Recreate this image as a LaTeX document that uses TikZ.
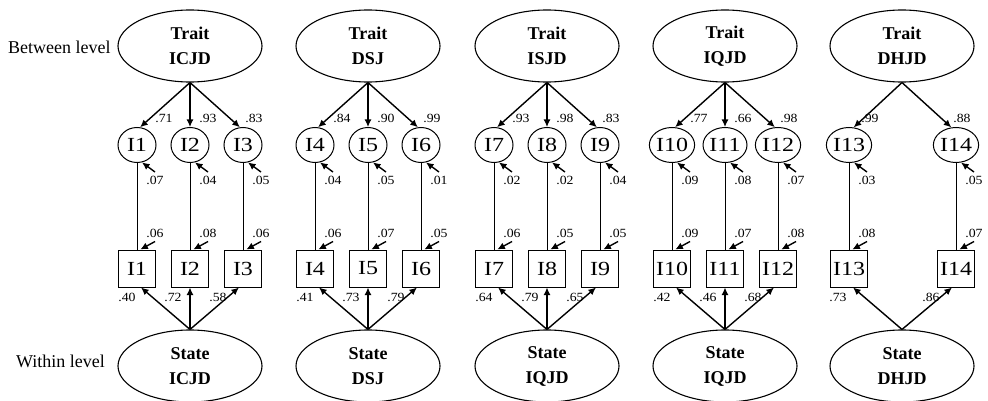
\documentclass[tikz,border=0pt]{standalone}
\usepackage{fontspec}
\setmainfont{Liberation Serif}
\newfontfamily\wideserif[FakeStretch=1.2]{Liberation Serif}
\newfontfamily\numserif[FakeStretch=1.1]{Liberation Serif}
\usetikzlibrary{arrows.meta,shapes.geometric}
\begin{document}
\begin{tikzpicture}[x=1pt,y=-1pt,
 lat/.style={draw,ellipse,line width=1.1pt,minimum width=144pt,minimum height=72pt,inner sep=0pt,align=center,font=\fontsize{18}{25}\selectfont\bfseries},
 itc/.style={draw,ellipse,line width=1pt,minimum width=38pt,minimum height=35pt,inner sep=0pt,font=\wideserif\fontsize{20}{20}\selectfont},
 itb/.style={draw,rectangle,line width=1pt,minimum size=37pt,inner sep=0pt,font=\wideserif\fontsize{20}{20}\selectfont},
 num/.style={inner sep=0pt,font=\numserif\fontsize{12.5}{13}\selectfont},
 lvl/.style={inner sep=0pt,font=\fontsize{18}{18}\selectfont},
 arr/.style={line width=1.4pt,-{Latex[length=7.5pt,width=7pt]}},
 link/.style={line width=0.9pt}]
\useasboundingbox (0,0) rectangle (988,401);
\node[lvl,anchor=west] (bl) at (8,47) {Between level};
\node[lvl,anchor=west] (wl) at (16,361) {Within level};
\foreach \g/\cx/\tn/\sn in {1/190/ICJD/ICJD, 2/368/DSJ/DSJ, 3/547/ISJD/IQJD, 4/725/IQJD/IQJD, 5/902/DHJD/DHJD}{
  \node[lat] (T\g) at (\cx,46) {Trait\\\tn};
  \node[lat] (S\g) at (\cx,366) {State\\\sn};
}
\foreach \i/\g/\x/\tl/\sl/\ta/\sa/\lt/\ec/\eb/\ls in {
 1/1/137/27/-10/80/-78/.71/.07/.06/.40,
 2/1/190/18/-17/90/-90/.93/.04/.08/.72,
 3/1/243/11/-25/100/-102/.83/.05/.06/.58,
 4/2/315/27/-10/80/-78/.84/.04/.06/.41,
 5/2/368/18/-17/90/-90/.90/.05/.07/.73,
 6/2/421/11/-25/100/-102/.99/.01/.05/.79,
 7/3/494/27/-10/80/-78/.93/.02/.06/.64,
 8/3/547/18/-17/90/-90/.98/.02/.05/.79,
 9/3/600/11/-25/100/-102/.83/.04/.05/.65,
 10/4/672/27/-10/80/-78/.77/.09/.09/.42,
 11/4/725/18/-17/90/-90/.66/.08/.07/.46,
 12/4/778/11/-25/100/-102/.98/.07/.08/.68,
 13/5/849/21/-11/75/-78/.99/.03/.08/.73,
 14/5/956/6/-25/105/-102/.88/.05/.07/.86}{
  \node[itc] (c\i) at (\x,145) {I\i};
  \node[itb] (b\i) at (\x,268.5) {I\i};
  \draw[arr] (T\g.south) -- (c\i.\ta);
  \draw[arr] (S\g.north) -- (b\i.\sa);
  \draw[link] (c\i) -- (b\i);
  \coordinate (ec\i) at (\x+18,172);
  \draw[arr] (ec\i) -- (c\i.-74);
  \coordinate (eb\i) at (\x+18,241.5);
  \draw[arr] (eb\i) -- (b\i.80);
  \node[num] (nt\i) at (\x+\tl,118) {\lt};
  \node[num] (nc\i) at (\x+18,180.5) {\ec};
  \node[num] (nb\i) at (\x+18,233.5) {\eb};
  \node[num] (ns\i) at (\x+\sl,297) {\ls};
}
\end{tikzpicture}
\end{document}
